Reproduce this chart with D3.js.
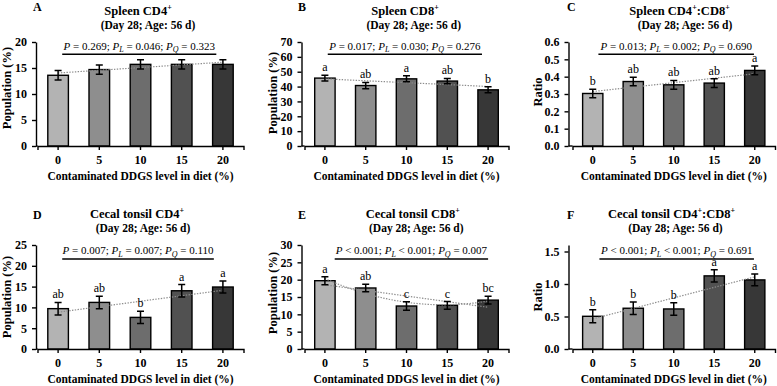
<!DOCTYPE html>
<html><head><meta charset="utf-8">
<script src="https://cdn.jsdelivr.net/npm/d3@7/dist/d3.min.js"></script>
<style>
body{margin:0;background:#fff;}
svg{display:block;}
text{font-family:"Liberation Serif","Times New Roman",serif;white-space:pre;fill:#000;}
</style>
</head><body>
<svg id="chart" width="777" height="386"></svg>
<script>
// ---------- data ----------
const levels = ["0", "5", "10", "15", "20"];
const levelValues = [0, 5, 10, 15, 20];

const spleenCD4 = [13.6, 14.7, 15.7, 15.7, 15.7];
const spleenCD4Err = [0.9, 0.9, 0.9, 0.9, 0.9];
const spleenCD4Letters = ["", "", "", "", ""];

const spleenCD8 = [45.7, 40.7, 45.2, 43.7, 37.8];
const spleenCD8Err = [2.0, 2.1, 2.0, 1.8, 2.0];
const spleenCD8Letters = ["a", "ab", "a", "ab", "b"];

const spleenRatio = [0.303, 0.372, 0.353, 0.363, 0.436];
const spleenRatioErr = [0.025, 0.025, 0.025, 0.025, 0.025];
const spleenRatioLetters = ["b", "ab", "ab", "ab", "a"];

const cecalCD4 = [9.7, 11.2, 7.6, 14.0, 14.9];
const cecalCD4Err = [1.5, 1.5, 1.5, 1.5, 1.45];
const cecalCD4Letters = ["ab", "ab", "b", "a", "a"];

const cecalCD8 = [19.7, 17.6, 12.4, 12.6, 14.1];
const cecalCD8Err = [1.15, 1.1, 1.2, 1.1, 1.1];
const cecalCD8Letters = ["a", "ab", "c", "c", "bc"];

const cecalRatio = [0.503, 0.627, 0.616, 1.125, 1.063];
const cecalRatioErr = [0.1, 0.095, 0.095, 0.095, 0.09];
const cecalRatioLetters = ["b", "b", "b", "a", "a"];

const panelLetters = ["A", "B", "C", "D", "E", "F"];
// title segments alternate: normal, superscript, normal, superscript
const titles = [
  ["Spleen CD4", "+"],
  ["Spleen CD8", "+"],
  ["Spleen CD4", "+", ":CD8", "+"],
  ["Cecal tonsil CD4", "+"],
  ["Cecal tonsil CD8", "+"],
  ["Cecal tonsil CD4", "+", ":CD8", "+"]
];
const subtitle = "(Day 28; Age: 56 d)";
const yTitles = ["Population (%)", "Population (%)", "Ratio", "Population (%)", "Population (%)", "Ratio"];
const xTitle = "Contaminated DDGS level in diet (%)";

const yMax = [20, 70, 0.6, 25, 30, 1.6];
const yTicks = [
  [0, 5, 10, 15, 20],
  [0, 10, 20, 30, 40, 50, 60, 70],
  [0, 0.1, 0.2, 0.3, 0.4, 0.5, 0.6],
  [0, 5, 10, 15, 20, 25],
  [0, 5, 10, 15, 20, 25, 30],
  [0, 0.5, 1.0, 1.5]
];
const yTickFormats = ["d", "d", ".1f", "d", "d", ".1f"];

const pOverall = ["= 0.269", "= 0.017", "= 0.013", "= 0.007", "< 0.001", "< 0.001"];
const pLinear  = ["= 0.046", "= 0.030", "= 0.002", "= 0.007", "< 0.001", "< 0.001"];
const pQuad    = ["= 0.323", "= 0.276", "= 0.690", "= 0.110", "= 0.007", "= 0.691"];
const showLinear = [true, true, true, true, true, true];
const showQuad = [false, false, false, false, true, false];

const panelValues = [spleenCD4, spleenCD8, spleenRatio, cecalCD4, cecalCD8, cecalRatio];
const panelErrors = [spleenCD4Err, spleenCD8Err, spleenRatioErr, cecalCD4Err, cecalCD8Err, cecalRatioErr];
const panelLettersAbove = [spleenCD4Letters, spleenCD8Letters, spleenRatioLetters, cecalCD4Letters, cecalCD8Letters, cecalRatioLetters];

// ---------- layout / style ----------
const barColors = ["#b3b3b3", "#8e8e8e", "#6d6d6d", "#515151", "#373737"];
const colAxisX = [36, 301.5, 568.5];
const colBand = [[37.5, 243.5], [304.5, 508.5], [572.5, 775]];
const rowBase = [146, 349];
const rowTop = [42, 245];
const titleX = [138, 405, 679.5, 137, 412.7, 671.5];
const subX = [148, 413.7, 685, 143, 416.3, 675.4];
const titleY = [15, 217.5];
const subY = [28.8, 231.8];
const letterX = [33, 298, 567];
const letterY = [11, 219];
const pTextY = [49.5, 254];
const sigLineY = [54.3, 259];
const sigSpan = [[0.1, 3.84], [0.07, 3.85], [0.14, 3.98], [0.1, 3.78], [0.24, 4.0], [0.165, 3.98]];
const yTitleX = [11, 276.5, 542];
const yTitleMid = [88, 93, 92, 297, 293, 297];

function linFit(xs, ys) {
  const n = xs.length, mx = d3.mean(xs), my = d3.mean(ys);
  let sxy = 0, sxx = 0;
  for (let i = 0; i < n; i++) { sxy += (xs[i]-mx)*(ys[i]-my); sxx += (xs[i]-mx)**2; }
  const b = sxy / sxx;
  return x => my + b * (x - mx);
}
function quadFit(xs, ys) {
  const S = k => d3.sum(xs, x => x ** k);
  const T = k => d3.sum(xs.map((x, i) => ys[i] * x ** k));
  const A = [[S(0), S(1), S(2)], [S(1), S(2), S(3)], [S(2), S(3), S(4)]];
  const B = [T(0), T(1), T(2)];
  const M = A.map((r, i) => r.concat([B[i]]));
  for (let c = 0; c < 3; c++) {
    let p = c;
    for (let r = c + 1; r < 3; r++) if (Math.abs(M[r][c]) > Math.abs(M[p][c])) p = r;
    [M[c], M[p]] = [M[p], M[c]];
    for (let r = 0; r < 3; r++) if (r !== c) {
      const f = M[r][c] / M[c][c];
      for (let k = c; k < 4; k++) M[r][k] -= f * M[c][k];
    }
  }
  const cf = M.map((r, i) => r[3] / r[i]);
  return x => cf[0] + cf[1] * x + cf[2] * x * x;
}

const svg = d3.select("#chart");

for (let p = 0; p < 6; p++) {
  const col = p % 3, row = Math.floor(p / 3);
  const g = svg.append("g");
  const vals = panelValues[p], errs = panelErrors[p], lets = panelLettersAbove[p];

  const x = d3.scaleBand().domain(levels).range(colBand[col]).paddingInner(0.5).paddingOuter(0.25);
  const y = d3.scaleLinear().domain([0, yMax[p]]).range([rowBase[row], rowTop[row]]);
  const cx = i => x(levels[i]) + x.bandwidth() / 2;
  const xLin = d3.scaleLinear().domain([levelValues[0], levelValues[4]]).range([cx(0), cx(4)]);
  const xIdx = d3.scaleLinear().domain([0, 4]).range([cx(0), cx(4)]);

  // bars
  g.selectAll("rect.bar").data(vals).join("rect")
    .attr("x", (d, i) => x(levels[i]))
    .attr("y", d => y(d))
    .attr("width", x.bandwidth())
    .attr("height", d => y(0) - y(d))
    .attr("fill", (d, i) => barColors[i])
    .attr("stroke", "#000").attr("stroke-width", 1.4);

  // trend lines
  const trendStyle = sel => sel.attr("fill", "none").attr("stroke", "#8c8c8c")
    .attr("stroke-width", 1.2).attr("stroke-dasharray", "1.4,1.4");
  if (showLinear[p]) {
    const f = linFit(levelValues, vals);
    g.append("path").call(trendStyle)
      .attr("d", d3.line()([[xLin(0), y(f(0))], [xLin(20), y(f(20))]]));
  }
  if (showQuad[p]) {
    const f = quadFit(levelValues, vals);
    const pts = d3.range(0, 20.01, 0.5).map(v => [xLin(v), y(f(v))]);
    g.append("path").call(trendStyle).attr("d", d3.line()(pts));
  }

  // error bars + letters
  vals.forEach((v, i) => {
    const c = cx(i), hi = y(v + errs[i]), lo = y(v - errs[i]);
    g.append("path").attr("d", `M${c},${hi}V${lo}M${c-3.5},${hi}H${c+3.5}M${c-3.5},${lo}H${c+3.5}`)
      .attr("stroke", "#000").attr("stroke-width", 1.5).attr("fill", "none");
    if (lets[i]) {
      g.append("text").attr("x", c).attr("y", hi - 4).attr("text-anchor", "middle")
        .attr("font-size", "12px").attr("fill", "#000").text(lets[i]);
    }
  });

  // y axis
  const yAxis = d3.axisLeft(y).tickValues(yTicks[p]).tickFormat(d3.format(yTickFormats[p]))
    .tickSize(4).tickSizeOuter(0).tickPadding(5);
  const ya = g.append("g").attr("transform", `translate(${colAxisX[col]},0)`).call(yAxis);
  ya.selectAll("text").attr("font-size", "12px").attr("font-weight", "bold")
    .attr("font-family", "Liberation Serif, serif").attr("fill", "#000");
  ya.selectAll("line,path").attr("stroke", "#000").attr("stroke-width", 1.4);

  // x axis
  const xAxis = d3.axisBottom(x).tickSize(4).tickSizeOuter(4).tickPadding(5);
  const xa = g.append("g").attr("transform", `translate(0,${rowBase[row]})`).call(xAxis);
  xa.selectAll("text").attr("font-size", "12px").attr("font-weight", "bold")
    .attr("font-family", "Liberation Serif, serif").attr("fill", "#000");
  xa.selectAll("line,path").attr("stroke", "#000").attr("stroke-width", 1.4);
  g.append("line").attr("x1", colAxisX[col]).attr("x2", colBand[col][0])
    .attr("y1", rowBase[row]).attr("y2", rowBase[row]).attr("stroke", "#000").attr("stroke-width", 1.4);

  // axis titles
  g.append("text").attr("x", (colBand[col][0] + colBand[col][1]) / 2).attr("y", rowBase[row] + 33.5)
    .attr("text-anchor", "middle").attr("font-size", "11.5px").attr("font-weight", "bold").text(xTitle);
  g.append("text").attr("transform", `translate(${yTitleX[col]},${yTitleMid[p]}) rotate(-90)`)
    .attr("text-anchor", "middle").attr("font-size", "12.5px").attr("font-weight", "bold").text(yTitles[p]);

  // panel letter
  g.append("text").attr("x", letterX[col]).attr("y", letterY[row])
    .attr("font-size", "12px").attr("font-weight", "bold").text(panelLetters[p]);

  // title
  const t = g.append("text").attr("x", titleX[p]).attr("y", titleY[row]).attr("text-anchor", "middle")
    .attr("font-size", "12.5px").attr("font-weight", "bold");
  titles[p].forEach((s, k) => {
    const sup = k % 2 === 1;
    t.append("tspan").attr("font-size", sup ? "8px" : "12.5px")
      .attr("dy", k === 0 ? 0 : (sup ? -5 : 5)).text(s);
  });
  g.append("text").attr("x", subX[p]).attr("y", subY[row]).attr("text-anchor", "middle")
    .attr("font-size", "11.5px").attr("font-weight", "bold").text(subtitle);

  // significance line and p-values
  const sx1 = xIdx(sigSpan[p][0]), sx2 = xIdx(sigSpan[p][1]);
  g.append("line").attr("x1", sx1).attr("x2", sx2).attr("y1", sigLineY[row]).attr("y2", sigLineY[row])
    .attr("stroke", "#000").attr("stroke-width", 1.4);
  const pt = g.append("text").attr("x", (sx1 + sx2) / 2).attr("y", pTextY[row])
    .attr("text-anchor", "middle").attr("font-size", "11px");
  pt.append("tspan").attr("font-style", "italic").text("P");
  pt.append("tspan").text(" " + pOverall[p] + "; ");
  pt.append("tspan").attr("font-style", "italic").text("P");
  pt.append("tspan").attr("font-style", "italic").attr("font-size", "8px").attr("dy", 2.5).text("L");
  pt.append("tspan").attr("dy", -2.5).text(" " + pLinear[p] + "; ");
  pt.append("tspan").attr("font-style", "italic").text("P");
  pt.append("tspan").attr("font-style", "italic").attr("font-size", "8px").attr("dy", 2.5).text("Q");
  pt.append("tspan").attr("dy", -2.5).text(" " + pQuad[p]);
}
</script>
</body></html>
